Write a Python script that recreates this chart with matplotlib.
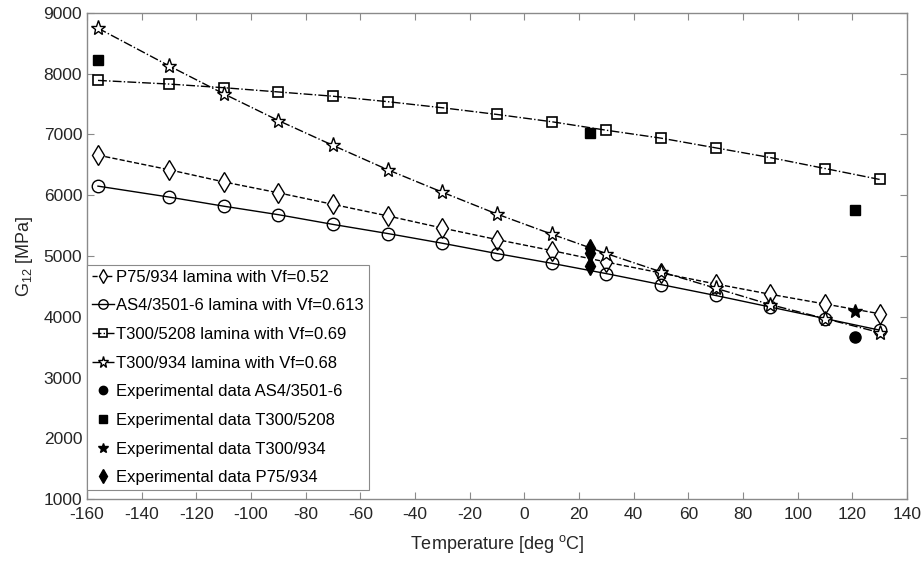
import numpy as np
from matplotlib import pyplot as plt

plt.rcParams['font.family'] = ['Liberation Sans', 'DejaVu Sans']
plt.rcParams['mathtext.fontset'] = 'custom'
plt.rcParams['mathtext.rm'] = 'Liberation Sans'
plt.rcParams['mathtext.it'] = 'Liberation Sans'
plt.rcParams['axes.unicode_minus'] = False

temp = [-156, -130, -110, -90, -70, -50, -30, -10, 10, 30, 50, 70, 90, 110, 130]
p75 = [6660, 6420, 6220, 6040, 5850, 5660, 5460, 5270, 5090, 4900, 4720, 4540, 4370, 4210, 4050]
as4 = [6150, 5970, 5820, 5680, 5520, 5370, 5210, 5040, 4880, 4710, 4530, 4350, 4160, 3970, 3780]
t300_5208 = [7890, 7830, 7770, 7700, 7630, 7540, 7440, 7330, 7210, 7070, 6940, 6780, 6620, 6440, 6260]
t300_934 = [8750, 8130, 7670, 7230, 6820, 6420, 6050, 5690, 5360, 5040, 4740, 4470, 4200, 3970, 3740]

exp_as4_t = [121]
exp_as4 = [3660]
exp_5208_t = [-156, 24, 121]
exp_5208 = [8220, 7020, 5750]
exp_934_t = [121]
exp_934 = [4090]
exp_p75_t = [24, 24, 24]
exp_p75 = [5130, 5050, 4830]

fig = plt.figure(figsize=(9.22, 5.64), dpi=100)
ax = fig.add_axes([0.0944, 0.1152, 0.8893, 0.8618])

ax.plot(temp, p75, '--', color='black', lw=1, marker='d', ms=10, mfc='white', mew=1.0,
        label='P75/934 lamina with Vf=0.52')
ax.plot(temp, as4, '-', color='black', lw=1, marker='o', ms=9, mfc='none', mew=1.0,
        label='AS4/3501-6 lamina with Vf=0.613')
ax.plot(temp, t300_5208, '-.', color='black', lw=1, marker='s', ms=7.5, mfc='none', mew=1.2,
        label='T300/5208 lamina with Vf=0.69')
ax.plot(temp, t300_934, '-.', color='black', lw=1, marker='*', ms=11, mfc='white', mew=1.0,
        label='T300/934 lamina with Vf=0.68')
ax.plot(exp_as4_t, exp_as4, 'o', color='black', ms=8, label='Experimental data AS4/3501-6')
ax.plot(exp_5208_t, exp_5208, 's', color='black', ms=7, label='Experimental data T300/5208')
ax.plot(exp_934_t, exp_934, '*', color='black', ms=10, label='Experimental data T300/934')
ax.plot(exp_p75_t, exp_p75, 'd', color='black', ms=9, label='Experimental data P75/934')

ax.set_xlim(-160, 140)
ax.set_ylim(1000, 9000)
ax.set_xticks(np.arange(-160, 141, 20))
ax.set_yticks(np.arange(1000, 9001, 1000))
ax.tick_params(direction='in', top=True, right=True, labelsize=12.5, labelcolor='#262626',
               length=5, width=0.8, color='#8a8a8a')
ax.tick_params(axis='x', pad=6)
for s in ax.spines.values():
    s.set_color('#8a8a8a')
    s.set_linewidth(1)

ax.set_xlabel('Temperature [deg $^{\\mathrm{o}}$C]', fontsize=13, color='#262626', labelpad=8)
ax.set_ylabel('G$_{12}$ [MPa]', fontsize=13, color='#262626', labelpad=6)

leg = ax.legend(loc='lower left', bbox_to_anchor=(0, 0.018), fontsize=12, handlelength=1.3,
                handletextpad=0.15, borderpad=0.3, labelspacing=0.82, borderaxespad=0,
                fancybox=False, edgecolor='#8a8a8a', framealpha=1, markerscale=0.75)
leg.get_frame().set_linewidth(0.8)

plt.savefig('out.png', dpi=100)
